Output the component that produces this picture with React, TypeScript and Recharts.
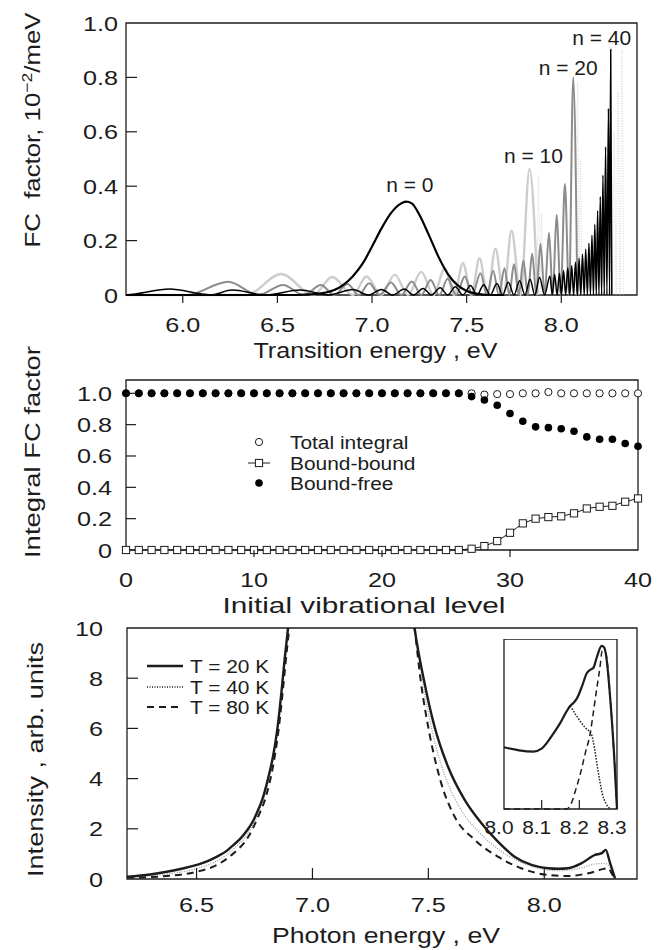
import React from 'react';
import { LineChart, Line, XAxis, YAxis, ReferenceArea, ReferenceDot, Legend } from 'recharts';

const FONT = '"Liberation Sans", Arial, Helvetica, sans-serif';
const INK = '#1c1c1c';
const WIDE = 1.2; // lettering in this figure runs wide

type Pt = [number, number];
const rows = (pts: Pt[]) => pts.map(([e, v]) => ({ e, v }));

// ---------- upper panel: FC factor (10^-2/meV) vs transition energy (eV)
const fcN0: Pt[] = [
  [5.7, 0], [6.6, 0], [6.7, 0.003], [6.8, 0.018], [6.9, 0.07], [6.95, 0.115], [7.0, 0.178],
  [7.05, 0.245], [7.1, 0.301], [7.15, 0.335], [7.18, 0.343], [7.21, 0.337], [7.25, 0.295],
  [7.3, 0.221], [7.35, 0.142], [7.4, 0.078], [7.45, 0.037], [7.5, 0.015], [7.55, 0.005], [7.62, 0], [7.7, 0],
];
const fcN10: Pt[] = [
  [5.7, 0], [6.335, 0], [6.52, 0.077], [6.69, 0], [6.79, 0.066], [6.9, 0], [6.97, 0.068], [7.05, 0],
  [7.12, 0.075], [7.19, 0], [7.26, 0.085], [7.325, 0], [7.385, 0.098], [7.435, 0], [7.48, 0.117],
  [7.525, 0], [7.568, 0.135], [7.61, 0], [7.652, 0.17], [7.695, 0], [7.737, 0.237], [7.785, 0],
  [7.832, 0.463], [7.875, 0],
];
const fcN20: Pt[] = [
  [5.7, 0], [6.02, 0], [6.24, 0.049], [6.4, 0], [6.53, 0.037], [6.64, 0], [6.73, 0.037], [6.8, 0],
  [6.87, 0.04], [6.93, 0], [6.985, 0.043], [7.04, 0], [7.1, 0.046], [7.155, 0], [7.21, 0.05],
  [7.26, 0], [7.31, 0.055], [7.355, 0], [7.4, 0.06], [7.445, 0], [7.49, 0.068], [7.53, 0],
  [7.573, 0.08], [7.607, 0], [7.64, 0.089], [7.67, 0], [7.7, 0.098], [7.725, 0], [7.75, 0.113],
  [7.775, 0], [7.8, 0.126], [7.823, 0], [7.846, 0.153], [7.868, 0], [7.89, 0.188], [7.912, 0],
  [7.935, 0.229], [7.955, 0], [7.975, 0.294], [7.997, 0], [8.019, 0.408], [8.041, 0], [8.063, 0.8], [8.085, 0],
];
const fcN40: Pt[] = [
  [5.7, 0], [5.75, 0.004], [5.93, 0.022], [6.1, 0.004], [6.15, 0], [6.26, 0.018], [6.44, 0],
  [6.62, 0.018], [6.77, 0], [6.9, 0.02], [6.98, 0], [7.05, 0.02], [7.11, 0], [7.17, 0.022], [7.22, 0],
  [7.27, 0.024], [7.315, 0], [7.36, 0.027], [7.4, 0], [7.44, 0.03], [7.48, 0], [7.52, 0.035],
  [7.555, 0], [7.59, 0.038], [7.625, 0], [7.66, 0.042], [7.69, 0], [7.72, 0.047], [7.75, 0],
  [7.78, 0.052], [7.808, 0], [7.835, 0.058], [7.86, 0], [7.885, 0.064], [7.912, 0], [7.94, 0.07],
  [7.952, 0], [7.965, 0.075], [7.978, 0], [7.99, 0.08], [8.001, 0], [8.012, 0.09], [8.023, 0],
  [8.034, 0.1], [8.045, 0], [8.055, 0.108], [8.065, 0], [8.075, 0.12], [8.085, 0], [8.094, 0.135],
  [8.103, 0], [8.112, 0.15], [8.121, 0], [8.129, 0.168], [8.138, 0], [8.146, 0.19], [8.154, 0],
  [8.162, 0.22], [8.17, 0], [8.177, 0.26], [8.185, 0], [8.192, 0.31], [8.199, 0], [8.206, 0.362],
  [8.213, 0], [8.22, 0.441], [8.227, 0], [8.234, 0.545], [8.241, 0], [8.249, 0.686], [8.255, 0],
  [8.261, 0.903], [8.267, 0],
];
// faint dotted continuation above each top level
const fcTail10: Pt[] = [[7.872, 0], [7.88, 0.44], [7.888, 0], [7.895, 0.3], [7.902, 0]];
const fcTail20: Pt[] = [[8.078, 0], [8.086, 0.78], [8.094, 0], [8.101, 0.5], [8.108, 0]];
const fcTail40: Pt[] = [[8.27, 0], [8.28, 0.6], [8.29, 0], [8.3, 0.75], [8.31, 0], [8.32, 0.9], [8.33, 0]];
const fcXTicks = [6.0, 6.5, 7.0, 7.5, 8.0];
const fcYTicks = [0, 0.2, 0.4, 0.6, 0.8, 1.0];
const fcTags = [
  { text: 'n = 0', e: 7.2, v: 0.379 },
  { text: 'n = 10', e: 7.853, v: 0.485 },
  { text: 'n = 20', e: 8.036, v: 0.81 },
  { text: 'n = 40', e: 8.213, v: 0.919 },
];

// ---------- middle panel: integral FC factor vs initial vibrational level
const levels = [0, 1, 2, 3, 4, 5, 6, 7, 8, 9, 10, 11, 12, 13, 14, 15, 16, 17, 18, 19, 20,
  21, 22, 23, 24, 25, 26, 27, 28, 29, 30, 31, 32, 33, 34, 35, 36, 37, 38, 39, 40];
const totalIntegral = [1, 1, 1, 1, 1, 1, 1, 1, 1, 1, 1, 1, 1, 1, 1, 1, 1, 1, 1, 1, 1,
  1, 1, 1, 1, 1, 1, 1, 0.992, 0.995, 0.995, 1, 1, 1.008, 1, 1, 1, 1, 1, 1, 1];
const boundBound = [0, 0, 0, 0, 0, 0, 0, 0, 0, 0, 0, 0, 0, 0, 0, 0, 0, 0, 0, 0, 0,
  0, 0, 0, 0, 0, 0, 0.008, 0.025, 0.057, 0.11, 0.17, 0.2, 0.21, 0.215, 0.234, 0.265, 0.276, 0.282, 0.308, 0.329];
const boundFree = [1, 1, 1, 1, 1, 1, 1, 1, 1, 1, 1, 1, 1, 1, 1, 1, 1, 1, 1, 1, 1,
  1, 1, 1, 1, 1, 1, 0.979, 0.957, 0.924, 0.871, 0.822, 0.786, 0.781, 0.774, 0.758, 0.722, 0.707, 0.707, 0.68, 0.662];
const levelTicks = [0, 10, 20, 30, 40];
const integralTicks = [0, 0.2, 0.4, 0.6, 0.8, 1.0];

// ---------- lower panel: intensity vs photon energy at three temperatures
const t20: Pt[] = [
  [6.2, 0.09], [6.3, 0.18], [6.372, 0.29], [6.44, 0.42], [6.502, 0.56], [6.55, 0.72], [6.588, 0.89],
  [6.63, 1.12], [6.66, 1.36], [6.69, 1.62], [6.72, 1.96], [6.745, 2.33], [6.766, 2.76], [6.785, 3.2],
  [6.8, 3.69], [6.815, 4.25], [6.83, 4.89], [6.842, 5.55], [6.852, 6.23], [6.866, 7.43], [6.88, 8.76],
  [6.895, 10.03], [6.91, 11.5], [7.42, 11.5], [7.44, 10.03], [7.483, 7.83], [7.526, 6.09], [7.584, 4.49],
  [7.656, 3.16], [7.728, 2.23], [7.8, 1.49], [7.872, 0.89], [7.945, 0.56], [8.017, 0.43], [8.06, 0.41],
  [8.103, 0.43], [8.161, 0.63], [8.219, 0.96], [8.248, 1.03], [8.265, 1.16], [8.284, 0.63], [8.305, 0.03],
];
const t40: Pt[] = [
  [6.2, 0.07], [6.372, 0.2], [6.502, 0.42], [6.588, 0.72], [6.66, 1.2], [6.72, 1.8], [6.766, 2.62],
  [6.8, 3.55], [6.83, 4.75], [6.852, 6.1], [6.868, 7.4], [6.882, 8.73], [6.897, 10.03], [6.912, 11.5],
  [7.42, 11.5], [7.44, 10.03], [7.476, 7.83], [7.515, 5.95], [7.57, 4.15], [7.635, 2.85], [7.715, 1.9],
  [7.8, 1.2], [7.89, 0.7], [7.98, 0.42], [8.06, 0.33], [8.15, 0.42], [8.22, 0.6], [8.26, 0.62],
  [8.285, 0.45], [8.3, 0.03],
];
const t80: Pt[] = [
  [6.2, 0.05], [6.372, 0.12], [6.502, 0.29], [6.588, 0.56], [6.66, 1.03], [6.72, 1.63], [6.766, 2.49],
  [6.8, 3.3], [6.83, 4.5], [6.852, 5.8], [6.87, 7.3], [6.885, 8.7], [6.9, 10.03], [6.915, 11.5],
  [7.42, 11.5], [7.44, 10.03], [7.468, 7.83], [7.504, 5.83], [7.555, 3.83], [7.613, 2.49], [7.7, 1.56],
  [7.8, 0.89], [7.9, 0.43], [8.017, 0.16], [8.103, 0.12], [8.19, 0.23], [8.277, 0.43], [8.292, 0.2], [8.305, 0.03],
];
const photonTicks = [6.5, 7.0, 7.5, 8.0];
const intensityTicks = [0, 2, 4, 6, 8, 10];

// inset: band edge, relative units
const inset20: Pt[] = [
  [8.0, 0.363], [8.04, 0.345], [8.078, 0.338], [8.1, 0.355], [8.113, 0.387], [8.13, 0.44], [8.149, 0.505],
  [8.165, 0.57], [8.176, 0.607], [8.185, 0.625], [8.194, 0.652], [8.207, 0.721], [8.22, 0.8], [8.23, 0.82],
  [8.237, 0.829], [8.247, 0.897], [8.259, 0.96], [8.266, 0.95], [8.27, 0.917], [8.283, 0.623], [8.292, 0.33], [8.3, 0],
];
const inset40: Pt[] = [
  [8.176, 0.607], [8.195, 0.54], [8.215, 0.48], [8.232, 0.44], [8.24, 0.36], [8.247, 0.26], [8.254, 0.17],
  [8.261, 0.09], [8.27, 0.035], [8.283, 0],
];
const inset80: Pt[] = [
  [8.0, 0], [8.165, 0], [8.176, 0.02], [8.19, 0.11], [8.203, 0.21], [8.216, 0.33], [8.229, 0.446],
  [8.238, 0.58], [8.247, 0.72], [8.254, 0.82], [8.261, 0.93], [8.27, 0.917], [8.283, 0.623], [8.292, 0.33], [8.3, 0],
];
const insetTicks = [8.0, 8.1, 8.2, 8.3];

// ---------- shared renderers
type TickOpts = {
  len: number; out?: boolean; gap: number; size?: number; sx?: number; dx?: number;
  skip?: number[]; fmt: (v: number) => string;
};

const xTick = (o: TickOpts) => (p: any) => {
  const { x, y, payload } = p;
  const v = payload.value;
  const showLine = o.len > 0 && !(o.skip || []).includes(v);
  return (
    <g>
      {showLine && <line x1={x} x2={x} y1={y} y2={o.out ? y + o.len : y - o.len} stroke={INK} strokeWidth={1.2} />}
      <text transform={`translate(${x + (o.dx || 0)},${y + o.gap}) scale(${o.sx || WIDE},1)`}
        textAnchor="middle" fontSize={o.size || 21} fontFamily={FONT} fill={INK}>{o.fmt(v)}</text>
    </g>
  );
};

const yTick = (o: TickOpts) => (p: any) => {
  const { x, y, payload } = p;
  const v = payload.value;
  const showLine = o.len > 0 && !(o.skip || []).includes(v);
  return (
    <g>
      {showLine && <line x1={x} x2={x + o.len} y1={y} y2={y} stroke={INK} strokeWidth={1.2} />}
      <text transform={`translate(${x - o.gap},${y + 7.5}) scale(${o.sx || WIDE},1)`}
        textAnchor="end" fontSize={o.size || 21} fontFamily={FONT} fill={INK}>{o.fmt(v)}</text>
    </g>
  );
};

const one = (v: number) => (v === 0 ? '0' : v.toFixed(1));

const xTitle = (text: string, dx: number, dy: number, len: number) => (p: any) => {
  const vb = p.viewBox || { x: 126, y: 0, width: 511, height: 0 };
  return (
    <text x={vb.x + vb.width / 2 + dx} y={vb.y + dy} textAnchor="middle" fontSize={22.5}
      fontFamily={FONT} fill={INK} textLength={len} lengthAdjust="spacingAndGlyphs">{text}</text>
  );
};

const yTitle = (content: React.ReactNode, bx: number, cy: number, len: number) => (p: any) => {
  const vb = p.viewBox || { x: 0, y: 0, width: 126, height: 0 };
  return (
    <text transform={`translate(${vb.x + bx},${vb.y + cy}) rotate(-90)`} textAnchor="middle"
      fontSize={22} fontFamily={FONT} fill={INK} textLength={len} lengthAdjust="spacingAndGlyphs"
      style={{ whiteSpace: 'pre' }}>{content}</text>
  );
};

const tagLabel = (text: string) => (p: any) => {
  const vb = p.viewBox || { x: 0, y: 0 };
  return (
    <text transform={`translate(${vb.x},${vb.y}) scale(1.05,1)`} textAnchor="middle" fontSize={20}
      fontFamily={FONT} fill={INK}>{text}</text>
  );
};

const legendText = (x: number, y: number, text: string) => (
  <text transform={`translate(${x},${y}) scale(1.1,1)`} fontSize={19} fontFamily={FONT} fill={INK}>{text}</text>
);

function FcPanel() {
  return (
    <LineChart width={667} height={370} margin={{ top: 23, right: 30, bottom: 0, left: 0 }}>
      <XAxis type="number" dataKey="e" domain={[5.7, 8.4]} ticks={fcXTicks} interval={0} height={75}
        axisLine={false} tickLine={false} tickSize={0} tickMargin={0}
        tick={xTick({ len: 8, out: true, gap: 37, fmt: (v) => v.toFixed(1) })}
        label={xTitle('Transition energy , eV', -6, 63, 244)} />
      <YAxis type="number" domain={[0, 1]} ticks={fcYTicks} interval={0} width={126}
        axisLine={false} tickLine={false} tickSize={0} tickMargin={0}
        tick={yTick({ len: 11, gap: 8, fmt: one, skip: [0, 1] })}
        label={yTitle(<>FC  factor, 10<tspan dy={-8} fontSize={15}>−2</tspan><tspan dy={8}>/meV</tspan></>, 40, 107, 235)} />
      <ReferenceArea x1={5.7} x2={8.4} y1={0} y2={1} fill="none" stroke={INK} strokeWidth={1.3} />
      <Line data={rows(fcTail10)} dataKey="v" type="monotone" stroke="#dadada" strokeWidth={1} strokeDasharray="1 1.5" dot={false} activeDot={false} isAnimationActive={false} />
      <Line data={rows(fcTail20)} dataKey="v" type="monotone" stroke="#dadada" strokeWidth={1} strokeDasharray="1 1.5" dot={false} activeDot={false} isAnimationActive={false} />
      <Line data={rows(fcTail40)} dataKey="v" type="monotone" stroke="#dadada" strokeWidth={1} strokeDasharray="1 1.5" dot={false} activeDot={false} isAnimationActive={false} />
      <Line data={rows(fcN10)} dataKey="v" type="monotone" stroke="#cdcdcd" strokeWidth={2.4} dot={false} activeDot={false} isAnimationActive={false} />
      <Line data={rows(fcN20)} dataKey="v" type="monotone" stroke="#8c8c8c" strokeWidth={2} dot={false} activeDot={false} isAnimationActive={false} />
      <Line data={rows(fcN0)} dataKey="v" type="monotone" stroke="#000" strokeWidth={2.2} dot={false} activeDot={false} isAnimationActive={false} />
      <Line data={rows(fcN40)} dataKey="v" type="monotone" stroke="#000" strokeWidth={1.5} dot={false} activeDot={false} isAnimationActive={false} />
      {fcTags.map((t) => (
        <ReferenceDot key={t.text} x={t.e} y={t.v} r={0} fill="none" stroke="none" label={tagLabel(t.text)} />
      ))}
    </LineChart>
  );
}

const squareDot = (p: any) => (
  <rect key={`sq-${p.index}`} x={p.cx - 3.6} y={p.cy - 3.6} width={7.2} height={7.2} fill="#fff" stroke={INK} strokeWidth={1} />
);
const openDot = (p: any) => (
  <circle key={`oc-${p.index}`} cx={p.cx} cy={p.cy} r={3.6} fill="#fff" stroke={INK} strokeWidth={1} />
);
const fullDot = (p: any) => (
  <circle key={`fc-${p.index}`} cx={p.cx} cy={p.cy} r={3.8} fill="#000" stroke="none" />
);

function IntegralLegend() {
  return (
    <svg width={220} height={70}>
      <circle cx={19} cy={12} r={3.6} fill="#fff" stroke={INK} strokeWidth={1} />
      {legendText(50, 19, 'Total integral')}
      <line x1={8} x2={30} y1={33} y2={33} stroke={INK} strokeWidth={1} />
      <rect x={15.4} y={29.4} width={7.2} height={7.2} fill="#fff" stroke={INK} strokeWidth={1} />
      {legendText(50, 40, 'Bound-bound')}
      <circle cx={19} cy={53} r={3.8} fill="#000" />
      {legendText(50, 60, 'Bound-free')}
    </svg>
  );
}

function IntegralPanel() {
  const data = levels.map((n, i) => ({ n, total: totalIntegral[i], bb: boundBound[i], bf: boundFree[i] }));
  return (
    <LineChart width={667} height={300} data={data} margin={{ top: 60, right: 29, bottom: 0, left: 0 }}>
      <XAxis type="number" dataKey="n" domain={[0, 40]} ticks={levelTicks} interval={0} height={70}
        axisLine={false} tickLine={false} tickSize={0} tickMargin={0}
        tick={xTick({ len: 7, out: true, gap: 37, fmt: (v) => String(v), skip: [0, 40] })}
        label={xTitle('Initial vibrational level', -18, 63, 283)} />
      <YAxis type="number" domain={[0, 1.085]} ticks={integralTicks} interval={0} width={126}
        axisLine={false} tickLine={false} tickSize={0} tickMargin={0}
        tick={yTick({ len: 10, gap: 14, fmt: one, skip: [0] })}
        label={yTitle('Integral FC factor', 40, 72, 212)} />
      <ReferenceArea x1={0} x2={40} y1={0} y2={1.085} fill="none" stroke={INK} strokeWidth={1.3} />
      <Line dataKey="bb" stroke={INK} strokeWidth={1} dot={squareDot} activeDot={false} isAnimationActive={false} />
      <Line dataKey="total" stroke="none" dot={openDot} activeDot={false} isAnimationActive={false} />
      <Line dataKey="bf" stroke="none" dot={fullDot} activeDot={false} isAnimationActive={false} />
      <Legend layout="vertical" align="center" verticalAlign="middle" content={() => <IntegralLegend />}
        wrapperStyle={{ left: 240, top: 110, width: 220, height: 70 }} />
    </LineChart>
  );
}

function SpectrumLegend() {
  return (
    <svg width={170} height={70}>
      <line x1={7} x2={43} y1={13} y2={13} stroke={INK} strokeWidth={2.4} />
      {legendText(50, 20, 'T = 20 K')}
      <line x1={7} x2={43} y1={34} y2={34} stroke={INK} strokeWidth={1.3} strokeDasharray="1 1.5" />
      {legendText(50, 41, 'T = 40 K')}
      <line x1={7} x2={43} y1={54} y2={54} stroke={INK} strokeWidth={2} strokeDasharray="7 5" />
      {legendText(50, 61, 'T = 80 K')}
    </svg>
  );
}

function SpectrumPanel() {
  return (
    <LineChart width={667} height={335} margin={{ top: 13, right: 30, bottom: 0, left: 0 }}>
      <XAxis type="number" dataKey="e" domain={[6.2, 8.4]} ticks={photonTicks} interval={0} height={71}
        axisLine={false} tickLine={false} tickSize={0} tickMargin={0}
        tick={xTick({ len: 11, gap: 33, fmt: (v) => v.toFixed(1) })}
        label={xTitle('Photon energy , eV', 4, 64, 228)} />
      <YAxis type="number" domain={[0, 10]} allowDataOverflow ticks={intensityTicks} interval={0} width={127}
        axisLine={false} tickLine={false} tickSize={0} tickMargin={0}
        tick={yTick({ len: 11, gap: 24, fmt: (v) => String(v), skip: [0, 10] })}
        label={yTitle('Intensity , arb. units', 43, 131.5, 235)} />
      <ReferenceArea x1={6.2} x2={8.4} y1={0} y2={10} fill="none" stroke={INK} strokeWidth={1.3} />
      <Line data={rows(t40)} dataKey="v" type="monotone" stroke="#9a9a9a" strokeWidth={1.3} strokeDasharray="1 1.5" dot={false} activeDot={false} isAnimationActive={false} />
      <Line data={rows(t80)} dataKey="v" type="monotone" stroke={INK} strokeWidth={2} strokeDasharray="7 5" dot={false} activeDot={false} isAnimationActive={false} />
      <Line data={rows(t20)} dataKey="v" type="monotone" stroke={INK} strokeWidth={2.4} dot={false} activeDot={false} isAnimationActive={false} />
      <Legend layout="vertical" align="center" verticalAlign="middle" content={() => <SpectrumLegend />}
        wrapperStyle={{ left: 140, top: 38, width: 170, height: 70 }} />
    </LineChart>
  );
}

function InsetPanel() {
  return (
    <LineChart width={160} height={205} margin={{ top: 0, right: 27, bottom: 0, left: 20 }}>
      <XAxis type="number" dataKey="e" domain={[8.0, 8.3]} ticks={insetTicks} interval={0} height={35}
        axisLine={false} tickLine={false} tickSize={0} tickMargin={0}
        tick={xTick({ len: 9, gap: 25, size: 19, sx: 1.1, dx: -5, skip: [8.0, 8.3], fmt: (v) => v.toFixed(1) })} />
      <YAxis type="number" domain={[0, 1]} hide />
      <ReferenceArea x1={8.0} x2={8.3} y1={0} y2={1} fill="none" stroke={INK} strokeWidth={1.3} />
      <Line data={rows(inset40)} dataKey="v" type="monotone" stroke={INK} strokeWidth={1.5} strokeDasharray="1.5 1.5" dot={false} activeDot={false} isAnimationActive={false} />
      <Line data={rows(inset80)} dataKey="v" type="monotone" stroke={INK} strokeWidth={1.5} strokeDasharray="6 4" dot={false} activeDot={false} isAnimationActive={false} />
      <Line data={rows(inset20)} dataKey="v" type="monotone" stroke={INK} strokeWidth={2.2} dot={false} activeDot={false} isAnimationActive={false} />
    </LineChart>
  );
}

export default function App() {
  return (
    <div style={{ position: 'absolute', left: 0, top: 0, width: 667, height: 950, background: '#fff', fontFamily: FONT }}>
      <div style={{ position: 'absolute', left: 0, top: 0 }}><FcPanel /></div>
      <div style={{ position: 'absolute', left: 0, top: 320 }}><IntegralPanel /></div>
      <div style={{ position: 'absolute', left: 0, top: 615 }}><SpectrumPanel /></div>
      <div style={{ position: 'absolute', left: 484, top: 639 }}><InsetPanel /></div>
    </div>
  );
}
